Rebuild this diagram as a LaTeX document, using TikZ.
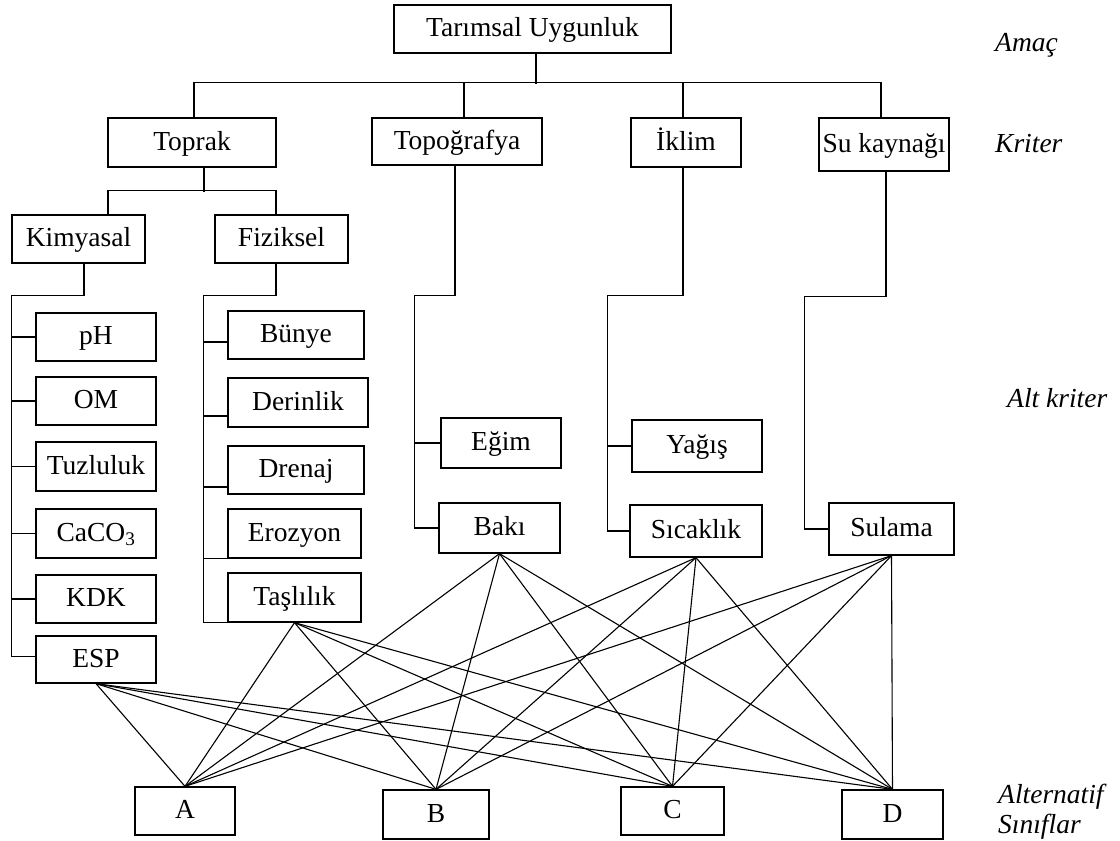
\documentclass[tikz,border=0pt]{standalone}
\usepackage{fontspec}
\setmainfont{Liberation Serif}
\usetikzlibrary{calc}
\begin{document}
\begin{tikzpicture}[x=1pt,y=-1pt,
  box/.style={draw, line width=1.3pt, inner sep=0pt, text height=20pt, text depth=5pt, font=\fontsize{27.5}{32}\selectfont},
  conn/.style={line width=1.3pt},
  link/.style={line width=1.1pt},
  lvl/.style={anchor=base west, inner sep=0pt, font=\fontsize{27.5}{32}\selectfont\itshape}]
\useasboundingbox (0,0) rectangle (1120,841);
% goal
\node[box, minimum width=277pt, minimum height=48pt] (goal) at (532.5,29) {Tarımsal Uygunluk};
% criteria
\node[box, minimum width=168pt, minimum height=49pt] (toprak) at (192,142.5) {Toprak};
\node[box, minimum width=170pt, minimum height=47pt] (topo) at (457,141.5) {Topoğrafya};
\node[box, minimum width=110pt, minimum height=49pt] (iklim) at (686,142.5) {İklim};
\node[box, minimum width=130pt, minimum height=53pt] (su) at (884,144.5) {Su kaynağı};
% soil groups
\node[box, minimum width=133pt, minimum height=48pt] (kim) at (78.5,239) {Kimyasal};
\node[box, minimum width=133pt, minimum height=48pt] (fiz) at (281.5,239) {Fiziksel};
% chemical
\node[box, minimum width=120pt, minimum height=48pt] (ph) at (96,337) {pH};
\node[box, minimum width=120pt, minimum height=48pt] (om) at (96,401) {OM};
\node[box, minimum width=120pt, minimum height=49pt] (tuz) at (96,466.5) {Tuzluluk};
\node[box, minimum width=120pt, minimum height=49pt] (caco) at (96,533.5) {CaCO\textsubscript{3}};
\node[box, minimum width=120pt, minimum height=48pt] (kdk) at (96,599) {KDK};
\node[box, minimum width=120pt, minimum height=47pt] (esp) at (96,659.5) {ESP};
% physical
\node[box, minimum width=136pt, minimum height=48pt] (bunye) at (296,335) {Bünye};
\node[box, minimum width=140pt, minimum height=49pt] (derin) at (298,402.5) {Derinlik};
\node[box, minimum width=136pt, minimum height=48pt] (drenaj) at (296,470) {Drenaj};
\node[box, minimum width=133pt, minimum height=49pt] (eroz) at (294.5,533.5) {Erozyon};
\node[box, minimum width=133pt, minimum height=49pt] (tas) at (294.5,597.5) {Taşlılık};
% topography / climate / water
\node[box, minimum width=120pt, minimum height=50pt] (egim) at (501,443) {Eğim};
\node[box, minimum width=121pt, minimum height=50pt] (baki) at (499.5,528) {Bakı};
\node[box, minimum width=130pt, minimum height=52pt] (yagis) at (697,446) {Yağış};
\node[box, minimum width=132pt, minimum height=52pt] (sicak) at (696,531) {Sıcaklık};
\node[box, minimum width=125pt, minimum height=52pt] (sulama) at (891.5,529) {Sulama};
% alternatives
\node[box, minimum width=100pt, minimum height=48pt] (A) at (185,811) {A};
\node[box, minimum width=106pt, minimum height=49pt] (B) at (436,814.5) {B};
\node[box, minimum width=103pt, minimum height=48pt] (C) at (672.5,811) {C};
\node[box, minimum width=101pt, minimum height=49pt] (D) at (892.5,814.5) {D};
% level labels
\node[lvl] (amac) at (995,51) {Amaç};
\node[lvl] (kriter) at (995,152) {Kriter};
\node[lvl] (altk) at (1007,407) {Alt kriter};
\node[lvl] (alt1) at (998,803) {Alternatif};
\node[lvl] (alt2) at (998,833) {Sınıflar};
% goal -> criteria
\draw[conn] ([xshift=3.5pt]goal.south) -- ++(0,30);
\draw[conn] ([xshift=2pt]toprak.north) -- ++(0,-35) -| ([xshift=-3pt]su.north);
\draw[conn] ([xshift=7pt]topo.north) -- ++(0,-35);
\draw[conn] ([xshift=-3pt]iklim.north) -- ++(0,-35);
% toprak -> groups
\draw[conn] ([xshift=12pt]toprak.south) -- ++(0,24);
\draw[conn] ([xshift=29.5pt]kim.north) -- ++(0,-24) -| ([xshift=-5.5pt]fiz.north);
% chemical tree
\draw[conn] ([xshift=5.5pt]kim.south) -- ++(0,32) -| ($(esp.west)+(-24,-3)$) -- ([yshift=3pt]esp.west);
\foreach \n in {ph,om,tuz,caco,kdk}{\draw[conn] (\n.west) -- ++(-24,0);}
% physical tree
\draw[conn] ([xshift=-5.5pt]fiz.south) -- ++(0,32) -| ($(tas.south west)+(-24,0)$) -- (tas.south west);
\draw[conn] ([yshift=-7pt]bunye.west) -- ++(-24,0);
\draw[conn] ([yshift=-13.5pt]derin.west) -- ++(-24,0);
\draw[conn] ([yshift=-17pt]drenaj.west) -- ++(-24,0);
\draw[conn] (eroz.south west) -- ++(-24,0);
% topography tree
\draw[conn] ([xshift=-2pt]topo.south) -- ++(0,130) -| ($(baki.west)+(-24,0)$) -- (baki.west);
\draw[conn] (egim.west) -- ++(-26,0);
% climate tree
\draw[conn] ([xshift=-3pt]iklim.south) -- ++(0,128) -| ($(sicak.west)+(-22,0)$) -- (sicak.west);
\draw[conn] (yagis.west) -- ++(-24,0);
% water tree
\draw[conn] ([xshift=2pt]su.south) -- ++(0,125) -| ($(sulama.west)+(-24,0)$) -- (sulama.west);
% sub-criteria -> alternatives
\foreach \s in {esp,tas,baki,sicak,sulama}{
  \foreach \t in {A,B,C,D}{\draw[link] (\s.south) -- (\t.north);}}
\end{tikzpicture}
\end{document}
